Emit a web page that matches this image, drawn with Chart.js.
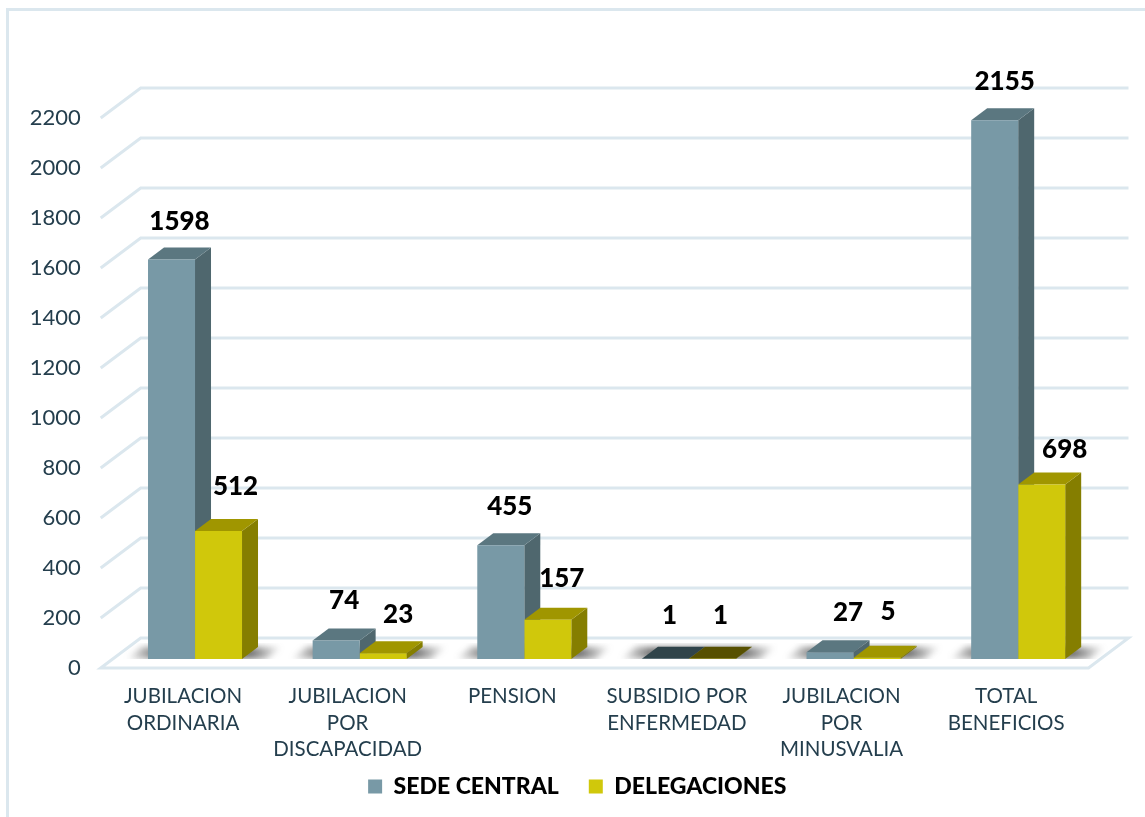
<!DOCTYPE html>
<html>
    <head>
        <style>
            html, body { margin: 0; padding: 0; background: #fff; }
            #frame { position: absolute; left: 6px; top: 8px; width: 1139px; height: 809px; border-left: 3px solid #dbe7ee; border-top: 3px solid #dbe7ee; box-sizing: border-box; }
            #wrap { position: absolute; left: 0; top: 0; width: 1145px; height: 817px; }
        </style>
    </head>
    <body>
	<div id="frame"></div>
	<div id="wrap"><canvas id="myChart" width="1145" height="817"></canvas></div>

        <script src="https://cdn.jsdelivr.net/npm/chart.js"></script>

        <script>
		const categories = [
			["JUBILACION", "ORDINARIA"],
			["JUBILACION", "POR", "DISCAPACIDAD"],
			["PENSION"],
			["SUBSIDIO POR", "ENFERMEDAD"],
			["JUBILACION", "POR", "MINUSVALIA"],
			["TOTAL", "BENEFICIOS"]
		];
		const sedeCentral = [1598, 74, 455, 1, 27, 2155];
		const delegaciones = [512, 23, 157, 1, 5, 698];

		// small nudges for the value labels, they don't sit at one fixed spot
		const sedeLabelShift = [[8, -38], [8, -40], [9, -39], [4, -43], [18, -40], [10, -39]];
		const delegLabelShift = [[17, -44], [15, -39], [14, -41], [8, -43], [11, -46], [23, -35]];

		const sedeColors = { front: '#7899a6', side: '#4f676e', top: '#5b7780', flat: '#30444a' };
		const delegColors = { front: '#d0c80b', side: '#857e00', top: '#a09600', flat: '#575000' };

		const gridColor = '#dbe7ee';
		const textColor = '#243e4d';
		const font = 'Lato';

		// 3d look: bar depth and floor/wall depth in px
		const barDepthX = 16, barDepthY = 12;
		const floorFrontX = 12, floorFrontY = 9;
		const wallBackX = 28, wallBackY = 21;
		const legendShift = 27;

		const walls = {
			id: 'walls',
			afterLayout(chart) {
				// legend sits right of the canvas centre in the original
				chart.legend.left += legendShift;
				chart.legend.right += legendShift;
				// third label line runs into the legend box, don't let it clip
				chart.scales.x.bottom += 30;
			},
			beforeDatasetsDraw(chart) {
				const ctx = chart.ctx, area = chart.chartArea, y = chart.scales.y;
				ctx.save();
				ctx.strokeStyle = gridColor;
				ctx.lineWidth = 3;
				y.ticks.forEach(function (t) {
					const py = y.getPixelForValue(t.value);
					ctx.beginPath();
					ctx.moveTo(area.left - floorFrontX, py + floorFrontY);
					ctx.lineTo(area.left + wallBackX, py - wallBackY);
					ctx.lineTo(area.right + wallBackX, py - wallBackY);
					if (t.value === 0) {
						ctx.lineTo(area.right - floorFrontX, py + floorFrontY);
						ctx.closePath();
					}
					ctx.stroke();
				});
				ctx.restore();

				const m0 = chart.getDatasetMeta(0).data, m1 = chart.getDatasetMeta(1).data;
				// soft shadow on the floor
				m0.forEach(function (bar, i) {
					const left = bar.x - bar.width / 2;
					const right = m1[i].x + m1[i].width / 2;
					const base = y.getPixelForValue(0);
					ctx.save();
					ctx.beginPath();
					ctx.rect(left - 30, base - 16, right - left + 80, 16);
					ctx.clip();
					ctx.filter = 'blur(3px)';
					const g = ctx.createLinearGradient(left - 22, 0, right + 40, 0);
					g.addColorStop(0, 'rgba(70,70,70,0)');
					g.addColorStop(0.2, 'rgba(70,70,70,0.75)');
					g.addColorStop(0.8, 'rgba(70,70,70,0.75)');
					g.addColorStop(1, 'rgba(70,70,70,0)');
					ctx.fillStyle = g;
					ctx.beginPath();
					ctx.moveTo(left - 22, base);
					ctx.lineTo(left + barDepthX - 22, base - barDepthY);
					ctx.lineTo(right + 40, base - barDepthY);
					ctx.lineTo(right + 24, base);
					ctx.closePath();
					ctx.fill();
					ctx.restore();
				});

				[0, 1].forEach(function (d) {
					const colors = d === 0 ? sedeColors : delegColors;
					const values = chart.data.datasets[d].data;
					chart.getDatasetMeta(d).data.forEach(function (bar, i) {
						const l = bar.x - bar.width / 2, r = bar.x + bar.width / 2;
						ctx.fillStyle = colors.side;
						ctx.beginPath();
						ctx.moveTo(r, bar.y);
						ctx.lineTo(r + barDepthX, bar.y - barDepthY);
						ctx.lineTo(r + barDepthX, bar.base - barDepthY);
						ctx.lineTo(r, bar.base);
						ctx.closePath();
						ctx.fill();
						ctx.fillStyle = values[i] <= 1 ? colors.flat : colors.top;
						ctx.beginPath();
						ctx.moveTo(l, bar.y);
						ctx.lineTo(l + barDepthX, bar.y - barDepthY);
						ctx.lineTo(r + barDepthX, bar.y - barDepthY);
						ctx.lineTo(r, bar.y);
						ctx.closePath();
						ctx.fill();
					});
				});
			},
			afterDatasetsDraw(chart) {
				const ctx = chart.ctx;
				ctx.save();
				ctx.fillStyle = '#000';
				ctx.font = '900 26px ' + font;
				ctx.textAlign = 'center';
				ctx.textBaseline = 'middle';
				[sedeLabelShift, delegLabelShift].forEach(function (shift, d) {
					const values = chart.data.datasets[d].data;
					chart.getDatasetMeta(d).data.forEach(function (bar, i) {
						ctx.fillText(values[i], bar.x + shift[i][0], bar.y + shift[i][1]);
					});
				});
				ctx.restore();
			}
		};

		const myChart = new Chart(document.getElementById('myChart'), {
			type: 'bar',
			data: {
				labels: categories,
				datasets: [
					{ label: 'SEDE CENTRAL', data: sedeCentral, backgroundColor: sedeColors.front },
					{ label: 'DELEGACIONES', data: delegaciones, backgroundColor: delegColors.front }
				]
			},
			plugins: [walls],
			options: {
				responsive: false,
				animation: false,
				categoryPercentage: 0.571,
				barPercentage: 1,
				layout: { padding: { top: 109, right: 44.5, left: 0, bottom: 9 } },
				plugins: {
					tooltip: { enabled: false },
					legend: {
						position: 'bottom',
						labels: {
							color: '#000',
							boxWidth: 14,
							boxHeight: 14,
							padding: 30,
							font: { family: font, size: 23, weight: '900' }
						}
					}
				},
				scales: {
					x: {
						grid: { display: false, drawTicks: false },
						border: { display: false },
						afterFit(scale) { scale.height = 86; },
						ticks: {
							color: textColor,
							padding: 24,
							labelOffset: -12,
							maxRotation: 0,
							autoSkip: false,
							font: { family: font, size: 20.5, lineHeight: 1.3 }
						}
					},
					y: {
						min: 0,
						max: 2200,
						grid: { display: false, drawTicks: false },
						border: { display: false },
						afterFit(scale) { scale.width = 112.7; },
						ticks: {
							color: textColor,
							stepSize: 200,
							padding: 32,
							labelOffset: 8.5,
							callback: function (v) { return String(v); },
							font: { family: font, size: 22 }
						}
					}
				}
			}
		});
        </script>
    </body>
</html>
